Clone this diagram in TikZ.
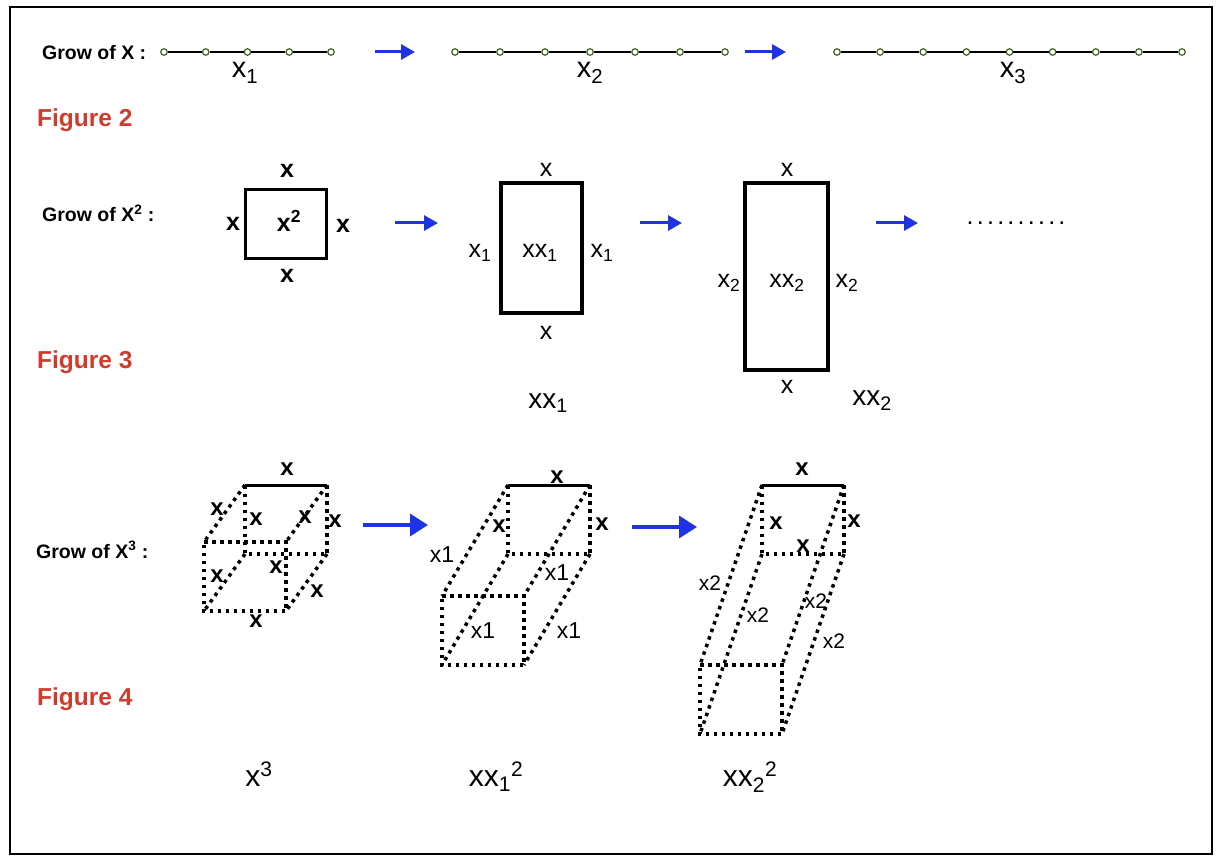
\documentclass[tikz,border=0pt]{standalone}
\usepackage{fontspec}
\setmainfont{Liberation Sans}
\usetikzlibrary{arrows.meta,positioning}
\definecolor{figred}{rgb}{0.82, 0.23, 0.17}
\definecolor{growblue}{rgb}{0.12, 0.2, 0.9}
\definecolor{dotgreen}{rgb}{0.27, 0.38, 0.12}
\newcommand{\sub}[1]{\textsubscript{#1}}
\newcommand{\sups}[1]{\textsuperscript{#1}}

\tikzset{
    growtext/.style={font=\fontsize{19.5}{22}\selectfont\bfseries, anchor=base west, inner sep=0pt},
    figlabel/.style={figred, font=\fontsize{24.5}{28}\selectfont\bfseries, anchor=base west, inner sep=0pt},
    seglabel/.style={font=\fontsize{29}{32}\selectfont, anchor=base, inner sep=0pt},
    sidelabel/.style={font=\fontsize{25}{28}\selectfont, anchor=base, inner sep=0pt},
    boldside/.style={font=\fontsize{25}{28}\selectfont\bfseries, anchor=base, inner sep=0pt},
    arealabel/.style={font=\fontsize{28}{31}\selectfont, anchor=base, inner sep=0pt},
    vollabel/.style={font=\fontsize{30}{33}\selectfont, anchor=base, inner sep=0pt},
    cubex/.style={font=\fontsize{24}{26}\selectfont\bfseries, anchor=base, inner sep=0pt},
    cubeone/.style={font=\fontsize{23}{25}\selectfont, anchor=base, inner sep=0pt},
    cubetwo/.style={font=\fontsize{21}{23}\selectfont, anchor=base, inner sep=0pt},
    vtx/.style={circle, draw=dotgreen, fill=white, line width=1.2pt, minimum size=6.5pt, inner sep=0pt},
    segline/.style={line width=2.5pt},
    growarrow/.style={growblue, line width=3pt, -{Triangle[length=14pt,width=15pt]}},
    bigarrow/.style={growblue, line width=3.5pt, -{Triangle[length=18pt,width=22pt]}},
    topline/.style={line width=3pt},
    dotline/.style={line width=3.5pt, dash pattern=on 3.5pt off 4.5pt}
}

\begin{document}
\begin{tikzpicture}[x=1pt, y=-1pt]
    \useasboundingbox (0,0) rectangle (1223,858);
    \draw[line width=2.5pt] (10,7) rectangle (1212,854);

    % grow of x
    \node[growtext] (g1) at (42,60) {Grow of X :};
    \foreach \i in {0,...,4}
        \node[vtx] (p\i) at ({164+41.75*\i},52) {};
    \foreach \i [count=\j] in {0,...,3}
        \draw[segline] (p\i) -- (p\j);
    \foreach \i in {0,...,6}
        \node[vtx] (q\i) at ({455+45*\i},52) {};
    \foreach \i [count=\j] in {0,...,5}
        \draw[segline] (q\i) -- (q\j);
    \foreach \i in {0,...,8}
        \node[vtx] (r\i) at ({837+43.125*\i},52) {};
    \foreach \i [count=\j] in {0,...,7}
        \draw[segline] (r\i) -- (r\j);
    \node[seglabel] (n1) at (245,78) {x\sub{1}};
    \node[seglabel] (n2) at (590,78) {x\sub{2}};
    \node[seglabel] (n3) at (1013,78) {x\sub{3}};
    \coordinate (s1) at (375,52);
    \coordinate (e1) at (415,52);
    \coordinate (s2) at (745,52);
    \coordinate (e2) at (786,52);
    \draw[growarrow] (s1) -- (e1);
    \draw[growarrow] (s2) -- (e2);

    \node[figlabel] (f2) at (37,127) {Figure 2};

    % grow of x^2
    \node[growtext] (g2) at (42,222) {Grow of X\sups{2} :};
    \draw[line width=3pt] (245,190) rectangle (326,259);
    \draw[line width=4pt] (501,183) rectangle (582,313);
    \draw[line width=4pt] (745,183) rectangle (828,370);
    \node[boldside] (sqT) at (287,178) {x};
    \node[boldside] (sqB) at (287,283) {x};
    \node[boldside] (sqL) at (233,231) {x};
    \node[boldside] (sqR) at (343,233) {x};
    \node[boldside] (sqC) at (289,232) {x\sups{2}};
    \node[sidelabel] (aT) at (546,177) {x};
    \node[sidelabel] (aB) at (546,340) {x};
    \node[sidelabel] (aL) at (480,258) {x\sub{1}};
    \node[sidelabel] (aC) at (540,258) {xx\sub{1}};
    \node[sidelabel] (aR) at (602,258) {x\sub{1}};
    \node[arealabel] (aA) at (548,408) {xx\sub{1}};
    \node[sidelabel] (bT) at (787,177) {x};
    \node[sidelabel] (bB) at (787,393) {x};
    \node[sidelabel] (bL) at (729,288) {x\sub{2}};
    \node[sidelabel] (bC) at (787,288) {xx\sub{2}};
    \node[sidelabel] (bR) at (847,288) {x\sub{2}};
    \node[arealabel] (bA) at (872,405) {xx\sub{2}};
    \node[sidelabel] (more) at (1016,225) {\addfontfeature{LetterSpace=13}..........};
    \coordinate (s3) at (395,223);
    \coordinate (e3) at (438,223);
    \coordinate (s4) at (640,223);
    \coordinate (e4) at (682,223);
    \coordinate (s5) at (876,223);
    \coordinate (e5) at (918,223);
    \draw[growarrow] (s3) -- (e3);
    \draw[growarrow] (s4) -- (e4);
    \draw[growarrow] (s5) -- (e5);

    \node[figlabel] (f3) at (37,368) {Figure 3};

    % grow of x^3
    \node[growtext] (g3) at (36,558) {Grow of X\sups{3} :};
    \foreach \c/\bx/\fx/\fy in {a/245/204/542, b/508/442/596, c/762/700/665} {
        \coordinate (\c1) at (\bx,485);
        \coordinate (\c2) at ({\bx+82},485);
        \coordinate (\c3) at ({\bx+82},554);
        \coordinate (\c4) at (\bx,554);
        \coordinate (\c5) at (\fx,\fy);
        \coordinate (\c6) at ({\fx+82},\fy);
        \coordinate (\c7) at ({\fx+82},{\fy+69});
        \coordinate (\c8) at (\fx,{\fy+69});
        \draw[topline] (\c1) -- (\c2);
        \draw[dotline] (\c2) -- (\c3) -- (\c4) -- (\c1);
        \draw[dotline] (\c5) -- (\c6) -- (\c7) -- (\c8) -- cycle;
        \foreach \k/\m in {1/5, 2/6, 3/7, 4/8}
            \draw[dotline] (\c\k) -- (\c\m);
    }
    \node[cubex] (ax1) at (287,475) {x};
    \node[cubex] (ax2) at (217,515) {x};
    \node[cubex] (ax3) at (256,525) {x};
    \node[cubex] (ax4) at (305,523) {x};
    \node[cubex] (ax5) at (335,527) {x};
    \node[cubex] (ax6) at (217,582) {x};
    \node[cubex] (ax7) at (276,573) {x};
    \node[cubex] (ax8) at (317,597) {x};
    \node[cubex] (ax9) at (256,627) {x};
    \node[cubex] (bx1) at (557,483) {x};
    \node[cubex] (bx2) at (499,532) {x};
    \node[cubex] (bx3) at (602,530) {x};
    \node[cubeone] (by1) at (442,562) {x1};
    \node[cubeone] (by2) at (557,580) {x1};
    \node[cubeone] (by3) at (483,638) {x1};
    \node[cubeone] (by4) at (569,638) {x1};
    \node[cubex] (cx1) at (802,475) {x};
    \node[cubex] (cx2) at (776,529) {x};
    \node[cubex] (cx3) at (854,527) {x};
    \node[cubex] (cx4) at (803,552) {x};
    \node[cubetwo] (cy1) at (710,590) {x2};
    \node[cubetwo] (cy2) at (758,622) {x2};
    \node[cubetwo] (cy3) at (816,608) {x2};
    \node[cubetwo] (cy4) at (834,648) {x2};
    \coordinate (s6) at (363,525);
    \coordinate (e6) at (428,525);
    \coordinate (s7) at (632,527);
    \coordinate (e7) at (697,527);
    \draw[bigarrow] (s6) -- (e6);
    \draw[bigarrow] (s7) -- (e7);

    \node[figlabel] (f4) at (37,705) {Figure 4};
    \node[vollabel] (vA) at (259,786) {x\sups{3}};
    \node[vollabel] (vB) at (496,786) {xx\sub{1}\sups{2}};
    \node[vollabel] (vC) at (750,786) {xx\sub{2}\sups{2}};
\end{tikzpicture}
\end{document}
